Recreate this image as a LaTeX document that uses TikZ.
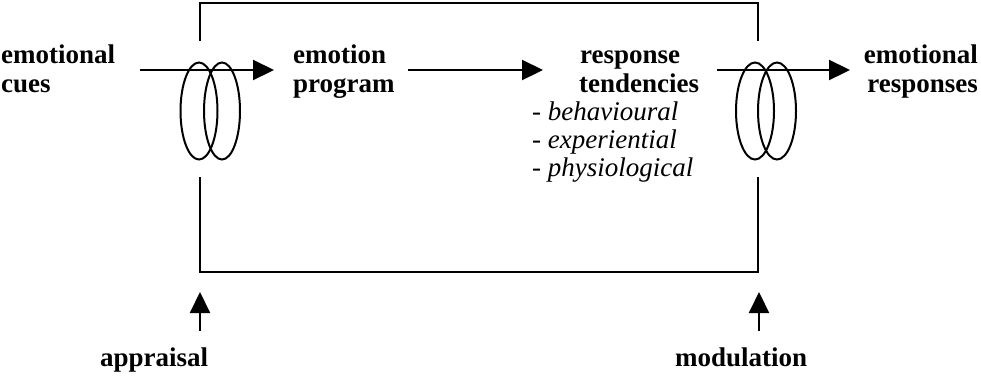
\documentclass[tikz,border=0pt]{standalone}
\usepackage{fontspec}
\setmainfont{Liberation Serif}
\usetikzlibrary{arrows.meta,shapes.geometric}
\begin{document}
\begin{tikzpicture}[x=1pt,y=-1pt,
  lbl/.style={inner sep=0pt,anchor=base west,font=\fontsize{27}{29}\selectfont\bfseries},
  ilbl/.style={inner sep=0pt,anchor=base west,font=\fontsize{27}{29}\selectfont\itshape},
  ln/.style={line width=2.2pt},
  arr/.style={line width=2.2pt,-{Triangle[length=21pt,width=20pt]}},
  ring/.style={line width=2pt,draw,ellipse,inner sep=0pt,minimum height=97pt}]
\useasboundingbox (0,0) rectangle (981,376);
% text
\node[lbl] (cues1) at (1,63) {emotional};
\node[lbl] (cues2) at (1,92) {cues};
\node[lbl] (prog1) at (293,63) {emotion};
\node[lbl] (prog2) at (293,92) {program};
\node[lbl] (tend1) at (580,63) {response};
\node[lbl] (tend2) at (579,92) {tendencies};
\node[ilbl] (beh) at (532,120) {- behavioural};
\node[ilbl] (exp) at (532,148) {- experiential};
\node[ilbl] (phy) at (532,176) {- physiological};
\node[lbl,anchor=base east] (resp1) at (978,63) {emotional};
\node[lbl,anchor=base east] (resp2) at (978,92) {responses};
\node[lbl] (appr) at (100,366) {appraisal};
\node[lbl] (modu) at (675,366) {modulation};
% frame
\coordinate (tl) at (200,3);
\coordinate (tr) at (758,3);
\coordinate (lgapT) at (200,41);
\coordinate (rgapT) at (758,41);
\coordinate (lgapB) at (200,177);
\coordinate (rgapB) at (758,177);
\coordinate (bl) at (200,272);
\coordinate (br) at (758,272);
\draw[ln] (lgapT) -- (tl) -- (tr) -- (rgapT);
\draw[ln] (lgapB) -- (bl) -- (br) -- (rgapB);
% rings
\node[ring,minimum width=37pt] (l1) at (199,111) {};
\node[ring,minimum width=36pt] (l2) at (222,111) {};
\node[ring,minimum width=38pt] (r1) at (755,111) {};
\node[ring,minimum width=38pt] (r2) at (777,111) {};
% arrows
\coordinate (a1s) at (140,70);
\coordinate (a1e) at (274,70);
\coordinate (a2s) at (408,70);
\coordinate (a2e) at (543,70);
\coordinate (a3s) at (717,70);
\coordinate (a3e) at (850,70);
\draw[arr] (a1s) -- (a1e);
\draw[arr] (a2s) -- (a2e);
\draw[arr] (a3s) -- (a3e);
\coordinate (ap1) at (200,331);
\coordinate (ap2) at (200,292);
\coordinate (mo1) at (759,331);
\coordinate (mo2) at (759,292);
\draw[arr] (ap1) -- (ap2);
\draw[arr] (mo1) -- (mo2);
\end{tikzpicture}
\end{document}
